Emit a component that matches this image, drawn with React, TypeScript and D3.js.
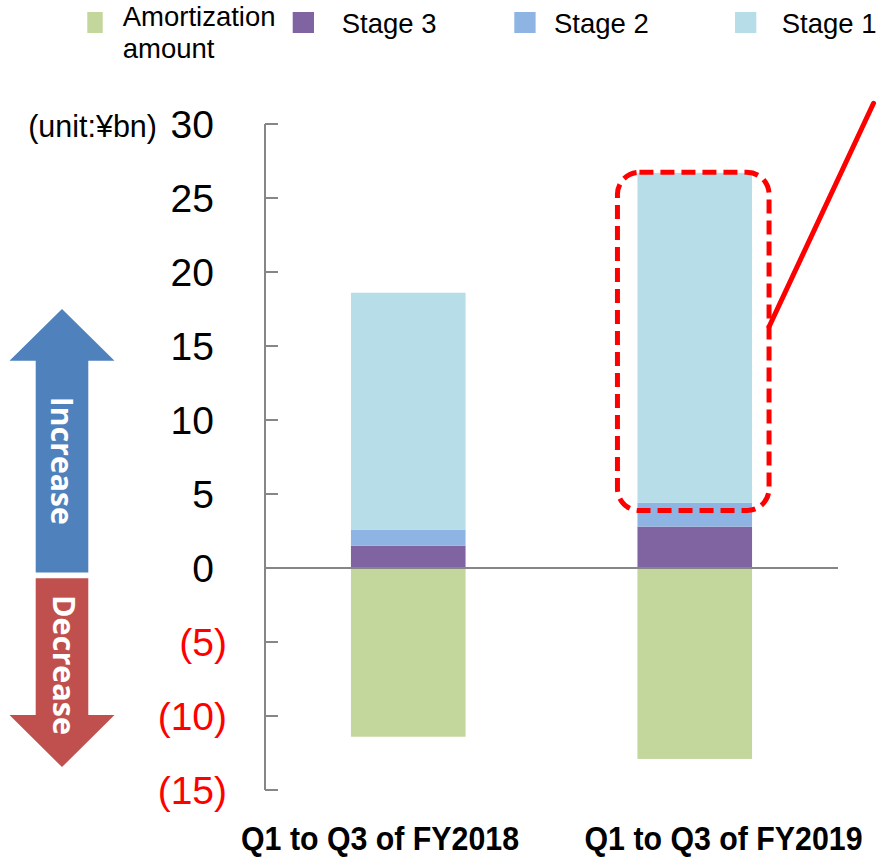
import React from "react";
import * as d3 from "d3";

// Credit cost breakdown (unit: ¥bn)
const categories = ["Q1 to Q3 of FY2018", "Q1 to Q3 of FY2019"];
const amortization = [-11.4, -12.9];
const stage3 = [1.5, 2.8];
const stage2 = [1.1, 1.6];
const stage1 = [16.0, 22.3];
const yTicks = [30, 25, 20, 15, 10, 5, 0, -5, -10, -15];

const seriesKeys = ["stage3", "stage2", "stage1"];
const seriesColors: Record<string, string> = {
  amortization: "#C3D69B",
  stage3: "#8064A2",
  stage2: "#8EB4E3",
  stage1: "#B7DEE8",
};

const W = 877;
const H = 857;
const FONT = "'Liberation Sans', Arial, sans-serif";
const AXIS = "#868686";

export default function App() {
  const x = d3
    .scaleBand<string>()
    .domain(categories)
    .range([265, 838])
    .paddingInner(0.6)
    .paddingOuter(0.3);
  const y = d3.scaleLinear().domain([-15, 30]).range([790, 124]);

  const labelX = d3.scalePoint<string>().domain(categories).range([380, 723.5]);

  const rows = categories.map((c, i) => ({
    category: c,
    stage3: stage3[i],
    stage2: stage2[i],
    stage1: stage1[i],
    amortization: amortization[i],
  }));
  const stacked = d3.stack<any>().keys(seriesKeys)(rows);

  const fmt = (v: number) => (v < 0 ? `(${-v})` : `${v}`);

  // Highlight frame around the FY2019 Stage 1 segment
  const last = categories.length - 1;
  const bx = x(categories[last])!;
  const bw = x.bandwidth();
  const top2 = stacked[2][last][1];
  const frame = {
    x0: bx - 20,
    x1: bx + bw + 17,
    y0: y(top2) - 0.5,
    y1: y(stacked[1][last][0]) - 16,
  };

  // Up / down direction arrows beside the axis
  const arrowCx = 62;
  const shaftHalf = 26.3;
  const headHalf = 52.5;
  const upArrow = d3.line()([
    [arrowCx - shaftHalf, y(-0.3)],
    [arrowCx - shaftHalf, y(14.0)],
    [arrowCx - headHalf, y(14.0)],
    [arrowCx, y(17.5)],
    [arrowCx + headHalf, y(14.0)],
    [arrowCx + shaftHalf, y(14.0)],
    [arrowCx + shaftHalf, y(-0.3)],
  ]) + "Z";
  const downArrow = d3.line()([
    [arrowCx - shaftHalf, y(-0.7)],
    [arrowCx - shaftHalf, y(-9.93)],
    [arrowCx - headHalf, y(-9.93)],
    [arrowCx, y(-13.45)],
    [arrowCx + headHalf, y(-9.93)],
    [arrowCx + shaftHalf, y(-9.93)],
    [arrowCx + shaftHalf, y(-0.7)],
  ]) + "Z";

  const legend = [
    { key: "amortization", sx: 87.3, sw: 15.4, tx: 122.7, lines: ["Amortization", "amount"], base: 26 },
    { key: "stage3", sx: 292.7, sw: 21.3, tx: 341.7, lines: ["Stage 3"], base: 33.3 },
    { key: "stage2", sx: 514.3, sw: 21.3, tx: 554, lines: ["Stage 2"], base: 33.3 },
    { key: "stage1", sx: 735, sw: 21.3, tx: 781.7, lines: ["Stage 1"], base: 33.3 },
  ];

  return (
    <svg
      width={W}
      height={H}
      viewBox={`0 0 ${W} ${H}`}
      style={{ position: "absolute", left: 0, top: 0, display: "block", background: "#fff" }}
    >
      <rect width={W} height={H} fill="#fff" />

      {/* legend */}
      {legend.map((l) => (
        <g key={l.key}>
          <rect x={l.sx} y={12} width={l.sw} height={21} fill={seriesColors[l.key]} />
          <text x={l.tx} y={l.base} fontFamily={FONT} fontSize={27.5} fill="#000">
            {l.lines.map((ln, i) => (
              <tspan key={i} x={l.tx} dy={i === 0 ? 0 : 32.3}>
                {ln}
              </tspan>
            ))}
          </text>
        </g>
      ))}

      {/* unit label */}
      <text x={157} y={137} textAnchor="end" fontFamily={FONT} fontSize={30.5} fill="#000">
        (unit:¥bn)
      </text>

      {/* bars: amortization below zero */}
      {rows.map((r) => (
        <rect
          key={`am-${r.category}`}
          x={x(r.category)}
          y={y(0)}
          width={bw}
          height={y(r.amortization) - y(0)}
          fill={seriesColors.amortization}
        />
      ))}

      {/* bars: stacked stages above zero */}
      {stacked.map((s) => (
        <g key={s.key} fill={seriesColors[s.key]}>
          {s.map((d, i) => (
            <rect
              key={i}
              x={x(categories[i])}
              y={y(d[1])}
              width={bw}
              height={y(d[0]) - y(d[1])}
            />
          ))}
        </g>
      ))}

      {/* y axis */}
      <line x1={265} x2={265} y1={y(30)} y2={y(-15)} stroke={AXIS} strokeWidth={2} />
      {yTicks.map((t) => (
        <g key={t}>
          <line x1={265} x2={278} y1={y(t)} y2={y(t)} stroke={AXIS} strokeWidth={2} />
          <text
            x={227}
            y={y(t) + 14}
            textAnchor="end"
            fontFamily={FONT}
            fontSize={39}
            fill={t < 0 ? "#FF0000" : "#000"}
          >
            {fmt(t)}
            {t >= 0 && <tspan fill="none">)</tspan>}
          </text>
        </g>
      ))}
      {/* zero line */}
      <line x1={265} x2={838} y1={y(0)} y2={y(0)} stroke={AXIS} strokeWidth={2} />

      {/* category labels (horizontally condensed bold) */}
      {categories.map((c) => (
        <text
          key={c}
          transform={`translate(${labelX(c)},849.5) scale(0.892,1)`}
          textAnchor="middle"
          fontFamily={FONT}
          fontWeight="bold"
          fontSize={34}
          fill="#000"
        >
          {c}
        </text>
      ))}

      {/* direction arrows */}
      <path d={upArrow} fill="#4F81BD" />
      <path d={downArrow} fill="#C0504D" />
      <text
        transform={`translate(${arrowCx - 11},${(396.7 + 525) / 2}) rotate(90)`}
        textAnchor="middle"
        fontFamily="'Open Sans', sans-serif"
        fontWeight="bold"
        fontSize={30}
        textLength={128}
        lengthAdjust="spacingAndGlyphs"
        fill="#fff"
      >
        Increase
      </text>
      <text
        transform={`translate(${arrowCx - 9},${(595 + 735) / 2}) rotate(90)`}
        textAnchor="middle"
        fontFamily="'Open Sans', sans-serif"
        fontWeight="bold"
        fontSize={31}
        textLength={140}
        lengthAdjust="spacingAndGlyphs"
        fill="#fff"
      >
        Decrease
      </text>

      {/* highlight frame and leader line */}
      <rect
        x={frame.x0}
        y={frame.y0}
        width={frame.x1 - frame.x0}
        height={frame.y1 - frame.y0}
        rx={22}
        ry={22}
        fill="none"
        stroke="#FF0000"
        strokeWidth={5}
        strokeDasharray="14 7"
      />
      <line
        x1={frame.x1}
        y1={y(16.3)}
        x2={873.5}
        y2={y(31.4)}
        stroke="#FF0000"
        strokeWidth={5}
        strokeLinecap="round"
      />
    </svg>
  );
}
